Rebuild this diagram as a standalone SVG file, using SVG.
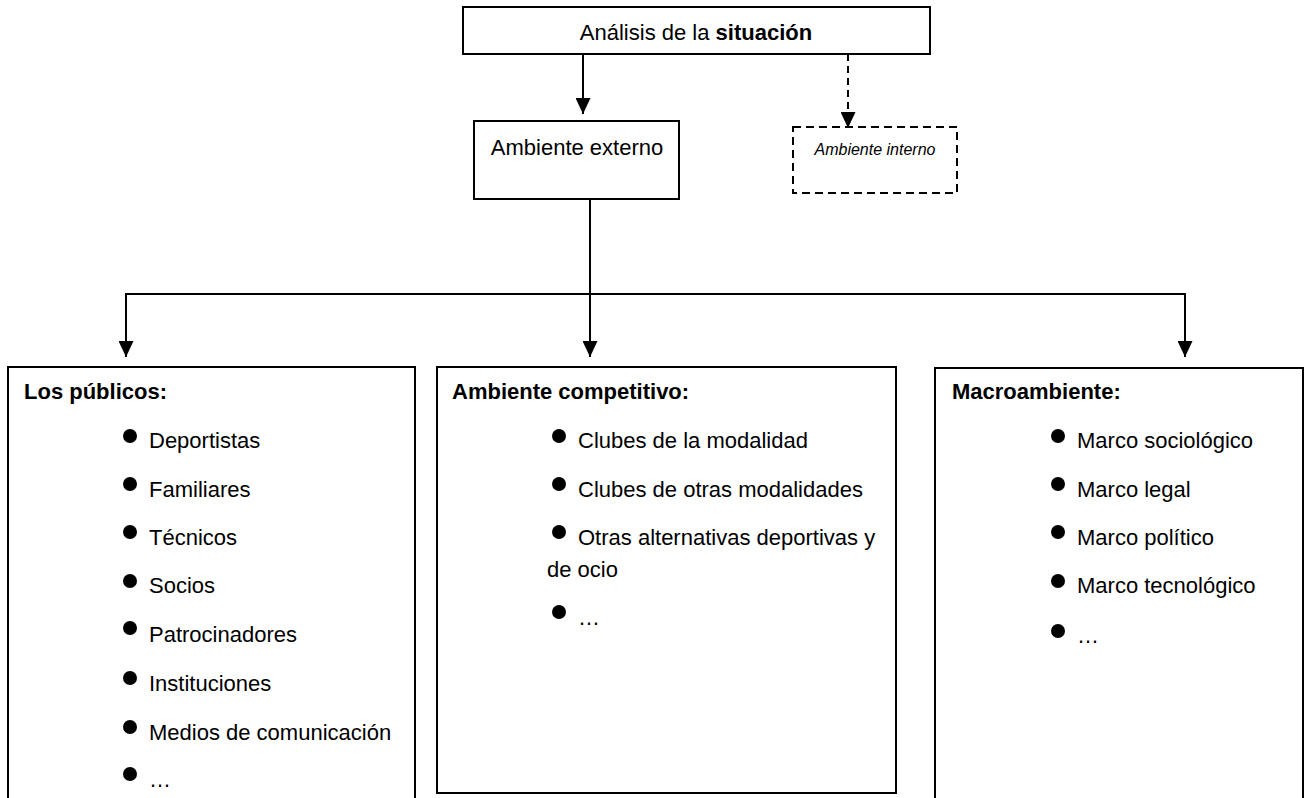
<svg xmlns="http://www.w3.org/2000/svg" width="1307" height="798" viewBox="0 0 1307 798">
<defs>
<style>
text{font-family:"Liberation Sans",Arial,sans-serif;font-size:22px;fill:#000}
.b{font-weight:bold}
.it{font-style:italic;font-size:16px}
.box{fill:#fff;stroke:#000;stroke-width:2}
.dbox{fill:#fff;stroke:#000;stroke-width:2;stroke-dasharray:8 5}
.ln{fill:none;stroke:#000;stroke-width:2}
.dl{fill:none;stroke:#000;stroke-width:2;stroke-dasharray:7 5}
.bul{fill:#000}
</style>
<marker id="ah" viewBox="0 0 16 15" refX="16" refY="7.5" markerWidth="16" markerHeight="15" markerUnits="userSpaceOnUse" orient="auto">
<path d="M0,0 L16,7.5 L0,15 Z" fill="#000"/>
</marker>
</defs>
<rect width="1307" height="798" fill="#fff"/>
<g id="connectors">
<line class="ln" x1="583" y1="54" x2="583" y2="114" marker-end="url(#ah)"/>
<line class="dl" x1="848" y1="54" x2="848" y2="128" marker-end="url(#ah)"/>
<polyline class="ln" points="590,199 590,294"/>
<polyline class="ln" points="126,357 126,294 1185,294 1185,357"/>
<line class="ln" x1="126" y1="294" x2="126" y2="357" marker-end="url(#ah)"/>
<line class="ln" x1="590" y1="294" x2="590" y2="357" marker-end="url(#ah)"/>
<line class="ln" x1="1185" y1="294" x2="1185" y2="357" marker-end="url(#ah)"/>
</g>
<g id="analisis">
<rect class="box" x="463" y="7" width="467" height="47"/>
<text x="696" y="40" text-anchor="middle">Análisis de la <tspan class="b">situación</tspan></text>
</g>
<g id="externo">
<rect class="box" x="474" y="121" width="205" height="78"/>
<text x="577" y="155" text-anchor="middle">Ambiente externo</text>
</g>
<g id="interno">
<rect class="dbox" x="793" y="127" width="164" height="66"/>
<text class="it" x="875" y="155" text-anchor="middle">Ambiente interno</text>
</g>
<g id="publicos">
<rect class="box" x="8" y="367" width="407" height="445"/>
<text class="b" x="24" y="399">Los públicos:</text>
<circle class="bul" cx="130" cy="436" r="7"/><text x="149" y="448">Deportistas</text>
<circle class="bul" cx="130" cy="484" r="7"/><text x="149" y="497">Familiares</text>
<circle class="bul" cx="130" cy="532" r="7"/><text x="149" y="545">Técnicos</text>
<circle class="bul" cx="130" cy="581" r="7"/><text x="149" y="593">Socios</text>
<circle class="bul" cx="130" cy="628" r="7"/><text x="149" y="642">Patrocinadores</text>
<circle class="bul" cx="130" cy="678" r="7"/><text x="149" y="691">Instituciones</text>
<circle class="bul" cx="130" cy="727" r="7"/><text x="149" y="740">Medios de comunicación</text>
<circle class="bul" cx="130" cy="774" r="7"/><text x="149" y="787">…</text>
</g>
<g id="competitivo">
<rect class="box" x="437" y="367" width="459" height="426"/>
<text class="b" x="452" y="399">Ambiente competitivo:</text>
<circle class="bul" cx="559" cy="436" r="7"/><text x="578" y="448">Clubes de la modalidad</text>
<circle class="bul" cx="559" cy="484" r="7"/><text x="578" y="497">Clubes de otras modalidades</text>
<circle class="bul" cx="559" cy="532" r="7"/><text x="578" y="545">Otras alternativas deportivas y</text>
<text x="547" y="577">de ocio</text>
<circle class="bul" cx="559" cy="612" r="7"/><text x="578" y="625">…</text>
</g>
<g id="macro">
<rect class="box" x="935" y="368" width="368" height="444"/>
<text class="b" x="952" y="399">Macroambiente:</text>
<circle class="bul" cx="1058" cy="436" r="7"/><text x="1077" y="448">Marco sociológico</text>
<circle class="bul" cx="1058" cy="484" r="7"/><text x="1077" y="497">Marco legal</text>
<circle class="bul" cx="1058" cy="532" r="7"/><text x="1077" y="545">Marco político</text>
<circle class="bul" cx="1058" cy="581" r="7"/><text x="1077" y="593">Marco tecnológico</text>
<circle class="bul" cx="1058" cy="631" r="7"/><text x="1077" y="643">…</text>
</g>
</svg>
